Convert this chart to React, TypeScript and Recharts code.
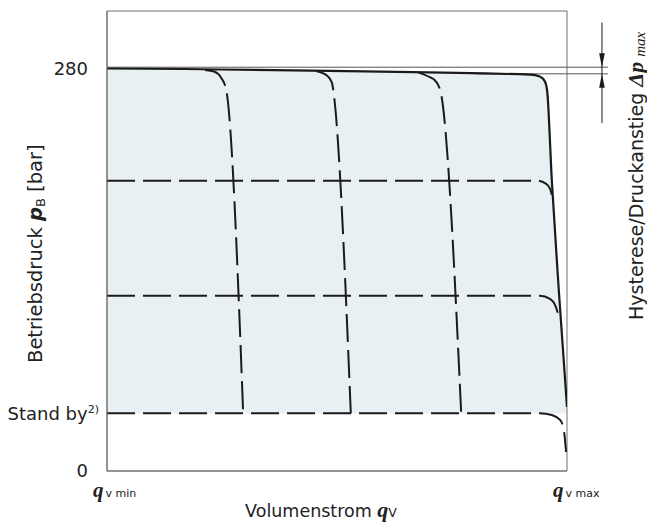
import { ComposedChart, Line, Area, XAxis, YAxis, ReferenceArea, ReferenceLine, ReferenceDot } from 'recharts';

// Volumenstrom in % von q_v min .. q_v max, Druck in bar
const envelopeQ = [0, 92.0, 94.1, 95.2, 95.7, 96.7, 98.3, 100];
const envelopeP = [280, 275.8, 274.4, 270.9, 264.0, 202, 121.9, 44.6];

// Kennlinien der Stromregler (senkrecht gestrichelt)
const flow1Q = [21.3, 23.3, 24.8, 25.9, 29.6];
const flow1P = [279.0, 277.9, 273.6, 265.4, 40.2];
const flow2Q = [45.6, 47.8, 48.9, 49.1, 53.0];
const flow2P = [278.1, 275.1, 270.2, 266.8, 40.2];
const flow3Q = [67.7, 70.4, 71.1, 72.4, 77.0];
const flow3P = [277.1, 273.6, 272.3, 265.4, 40.2];

// Druckstufen (waagerecht gestrichelt)
const level200Q = [0, 93.5, 95.4, 96.3, 96.7];
const level200P = [202, 202, 199.9, 196.4, 192.2];
const level120Q = [0, 94.1, 96.3, 97.4, 98.0];
const level120P = [121.9, 121.9, 119.8, 115.6, 110.0];
const standbyQ = [0, 94.1, 96.7, 98.5, 99.3, 99.8];
const standbyP = [40.2, 40.2, 39.0, 35.5, 28.6, 13.2];

const yTicks = [0, 40, 280];
const yTickLabels = ['0', 'Stand by', '280'];
const xTicks = [0, 100];
const xTickLabels = ['v min', 'v max'];

const hystUpper = 280.9;
const hystLower = 276.3;

const toRows = (q: number[], p: number[]) => q.map((v, i) => ({ q: v, p: p[i] }));

const SANS = '"DejaVu Sans", sans-serif';
const SERIF = '"Liberation Serif", serif';
const INK = '#1a1a1a';
const TEXT = '#222';
const GRID = '#707070';

const YTick = ({ x, y, payload }: any) => {
  const i = yTicks.indexOf(payload.value);
  if (i === 1) {
    return (
      <text x={x} y={y} dy={6} textAnchor="end" fontFamily={SANS} fontSize={18} fill={TEXT}>
        {yTickLabels[i]}
        <tspan fontSize={11} dy={-7}>2)</tspan>
      </text>
    );
  }
  return (
    <text x={x - 11} y={y} dy={6} textAnchor="end" fontFamily={SANS} fontSize={18} fill={TEXT}>
      {yTickLabels[i]}
    </text>
  );
};

const XTick = ({ x, y, payload }: any) => {
  const i = xTicks.indexOf(payload.value);
  return (
    <text x={x - 14} y={y + 18} fontFamily={SANS} fill={TEXT}>
      <tspan fontFamily={SERIF} fontStyle="italic" fontWeight="bold" fontSize={21}>q</tspan>
      <tspan fontSize={11} dx={2}>{xTickLabels[i]}</tspan>
    </text>
  );
};

const ArrowHead = ({ cx, cy, dir }: any) => {
  const h = 14 * dir;
  return <path d={`M${cx},${cy} L${cx - 2.8},${cy - h} L${cx + 2.8},${cy - h} Z`} fill={INK} />;
};

export default function App() {
  return (
    <div style={{ position: 'absolute', left: 0, top: 0, width: 647, height: 527 }}>
      <ComposedChart width={647} height={527} margin={{ top: 11, right: 80, bottom: 0, left: 0 }}>
        <XAxis
          dataKey="q"
          type="number"
          domain={[0, 100]}
          ticks={xTicks}
          height={56}
          tickLine={false}
          axisLine={{ stroke: GRID }}
          tick={<XTick />}
          allowDataOverflow
        />
        <YAxis
          dataKey="p"
          type="number"
          domain={[0, 320]}
          ticks={yTicks}
          width={107}
          tickLine={false}
          axisLine={{ stroke: GRID }}
          tick={<YTick />}
          allowDataOverflow
        />
        <Area
          data={toRows(envelopeQ, envelopeP)}
          dataKey="p"
          type="monotoneX"
          baseValue={40}
          fill="#e8f0f4"
          fillOpacity={1}
          stroke="none"
          isAnimationActive={false}
        />
        <ReferenceArea x1={0} x2={100} y1={0} y2={320} fill="none" stroke={GRID} strokeWidth={1} />
        <ReferenceLine segment={[{ x: 0, y: hystUpper }, { x: 108.9, y: hystUpper }]} stroke="#555" strokeWidth={1} ifOverflow="visible" />
        <ReferenceLine segment={[{ x: 80, y: hystLower }, { x: 108.9, y: hystLower }]} stroke="#555" strokeWidth={1} ifOverflow="visible" />
        <ReferenceLine segment={[{ x: 107.6, y: 312 }, { x: 107.6, y: 242 }]} stroke={INK} strokeWidth={1} ifOverflow="visible" />
        <ReferenceDot x={107.6} y={hystUpper} ifOverflow="visible" shape={(p: any) => <ArrowHead {...p} dir={1} />} />
        <ReferenceDot x={107.6} y={hystLower} ifOverflow="visible" shape={(p: any) => <ArrowHead {...p} dir={-1} />} />
        {[
          [level200Q, level200P],
          [level120Q, level120P],
          [standbyQ, standbyP],
          [flow1Q, flow1P],
          [flow2Q, flow2P],
          [flow3Q, flow3P],
        ].map(([q, p], i) => (
          <Line
            key={i}
            data={toRows(q, p)}
            dataKey="p"
            type="monotoneX"
            stroke={INK}
            strokeWidth={2}
            strokeDasharray="28 8"
            dot={false}
            isAnimationActive={false}
          />
        ))}
        <Line
          data={toRows(envelopeQ, envelopeP)}
          dataKey="p"
          type="monotoneX"
          stroke={INK}
          strokeWidth={2.2}
          dot={false}
          isAnimationActive={false}
        />
      </ComposedChart>
      <svg width={647} height={527} style={{ position: 'absolute', left: 0, top: 0, pointerEvents: 'none' }}>
        <text transform="translate(42,363) rotate(-90)" fontFamily={SANS} fontSize={19.5} fill={TEXT}>
          Betriebsdruck <tspan fontStyle="italic" fontWeight="bold">p</tspan>
          <tspan fontSize={13} dy={3}>B</tspan>
          <tspan dy={-3}> [bar]</tspan>
        </text>
        <text x={321} y={517} textAnchor="middle" fontFamily={SANS} fontSize={17.5} fill={TEXT}>
          Volumenstrom <tspan fontFamily={SERIF} fontStyle="italic" fontWeight="bold" fontSize={22}>q</tspan>
          <tspan fontSize={12.5}>V</tspan>
        </text>
        <text transform="translate(643,320) rotate(-90)" fontFamily={SANS} fontSize={19} fill={TEXT}>
          Hysterese/Druckanstieg <tspan fontFamily={SERIF} fontStyle="italic" fontWeight="bold" fontSize={22}>Δp</tspan>
          <tspan fontFamily={SERIF} fontStyle="italic" fontSize={15} dx={5} dy={2}>max</tspan>
        </text>
      </svg>
    </div>
  );
}
